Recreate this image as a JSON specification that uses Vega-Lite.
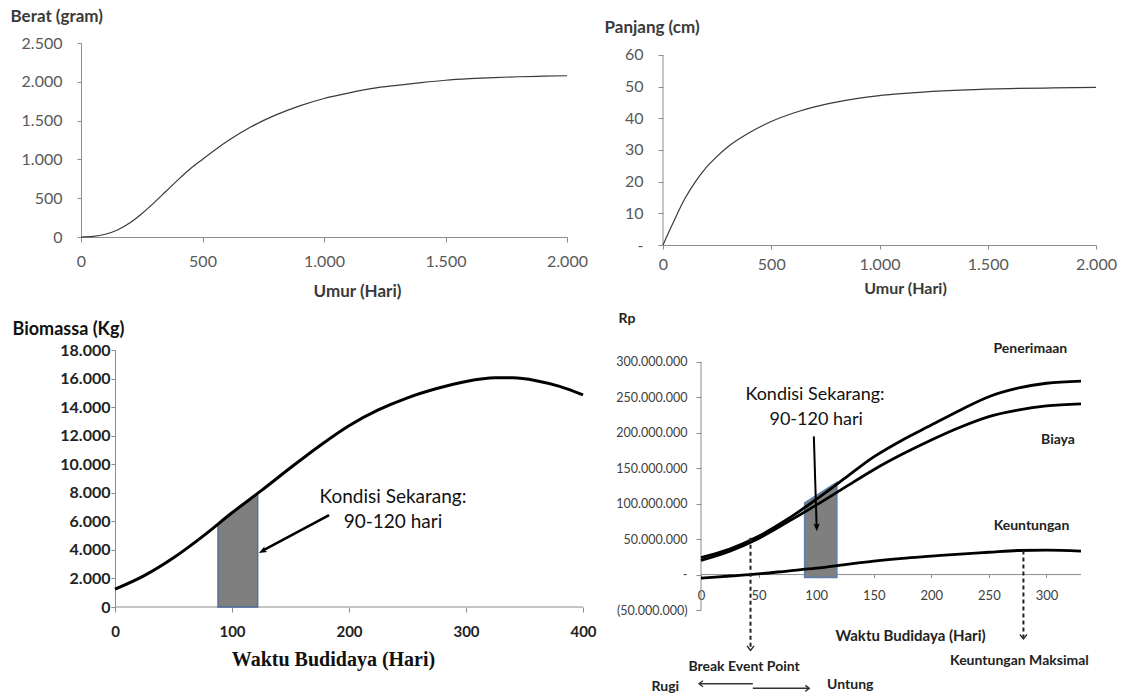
{
  "$schema": "https://vega.github.io/schema/vega-lite/v6.json",
  "background": "white",
  "padding": 0,
  "columns": 4,
  "spacing": 0,
  "bounds": "flush",
  "align": "each",
  "config": {
    "view": {"stroke": null},
    "font": "Lato",
    "locale": {"number": {"decimal": ",", "thousands": ".", "grouping": [3], "currency": ["Rp", ""]}},
    "axis": {"grid": false, "domainColor": "#8c8c8c", "tickColor": "#8c8c8c", "labelFont": "Lato", "titleFont": "Lato", "labelFlush": false, "labelOverlap": false}
  },
  "datasets": {
    "berat": [
      {"x": 0, "y": 0}, {"x": 50, "y": 8}, {"x": 100, "y": 35}, {"x": 150, "y": 90}, {"x": 200, "y": 180},
      {"x": 250, "y": 300}, {"x": 300, "y": 440}, {"x": 350, "y": 590}, {"x": 400, "y": 740}, {"x": 450, "y": 880},
      {"x": 500, "y": 1000}, {"x": 600, "y": 1230}, {"x": 700, "y": 1420}, {"x": 800, "y": 1570}, {"x": 900, "y": 1690},
      {"x": 1000, "y": 1785}, {"x": 1100, "y": 1855}, {"x": 1200, "y": 1915}, {"x": 1300, "y": 1955}, {"x": 1400, "y": 1990},
      {"x": 1500, "y": 2020}, {"x": 1600, "y": 2040}, {"x": 1700, "y": 2055}, {"x": 1800, "y": 2065}, {"x": 1900, "y": 2072}, {"x": 2000, "y": 2078}
    ],
    "panjang": [
      {"x": 0, "y": 0}, {"x": 50, "y": 7.5}, {"x": 100, "y": 14.5}, {"x": 150, "y": 20}, {"x": 200, "y": 24.5},
      {"x": 250, "y": 28}, {"x": 300, "y": 31}, {"x": 400, "y": 35.5}, {"x": 500, "y": 39}, {"x": 600, "y": 41.6},
      {"x": 700, "y": 43.6}, {"x": 800, "y": 45.1}, {"x": 900, "y": 46.3}, {"x": 1000, "y": 47.2}, {"x": 1100, "y": 47.8},
      {"x": 1200, "y": 48.3}, {"x": 1400, "y": 49}, {"x": 1600, "y": 49.4}, {"x": 1800, "y": 49.6}, {"x": 2000, "y": 49.8}
    ],
    "biomassa": [
      {"x": 0, "y": 1250}, {"x": 25, "y": 2200}, {"x": 50, "y": 3450}, {"x": 75, "y": 4950}, {"x": 100, "y": 6600},
      {"x": 125, "y": 8150}, {"x": 150, "y": 9750}, {"x": 175, "y": 11300}, {"x": 200, "y": 12700}, {"x": 225, "y": 13800},
      {"x": 250, "y": 14650}, {"x": 275, "y": 15300}, {"x": 300, "y": 15800}, {"x": 325, "y": 16050}, {"x": 340, "y": 16050},
      {"x": 360, "y": 15850}, {"x": 380, "y": 15450}, {"x": 400, "y": 14850}
    ],
    "biomassaArea": [
      {"x": 88, "y": 5810}, {"x": 100, "y": 6600}, {"x": 110, "y": 7220}, {"x": 122, "y": 7960}
    ],
    "rupiah": [
      {"s": "Penerimaan", "x": 0, "y": 24000000}, {"s": "Penerimaan", "x": 25, "y": 36000000}, {"s": "Penerimaan", "x": 50, "y": 54000000},
      {"s": "Penerimaan", "x": 75, "y": 78000000}, {"s": "Penerimaan", "x": 100, "y": 106000000}, {"s": "Penerimaan", "x": 125, "y": 136000000},
      {"s": "Penerimaan", "x": 150, "y": 166000000}, {"s": "Penerimaan", "x": 175, "y": 190000000}, {"s": "Penerimaan", "x": 200, "y": 211000000},
      {"s": "Penerimaan", "x": 225, "y": 232000000}, {"s": "Penerimaan", "x": 250, "y": 251000000}, {"s": "Penerimaan", "x": 275, "y": 263000000},
      {"s": "Penerimaan", "x": 300, "y": 270000000}, {"s": "Penerimaan", "x": 330, "y": 273000000},
      {"s": "Biaya", "x": 0, "y": 20000000}, {"s": "Biaya", "x": 25, "y": 33000000}, {"s": "Biaya", "x": 50, "y": 51000000},
      {"s": "Biaya", "x": 75, "y": 74000000}, {"s": "Biaya", "x": 100, "y": 98000000}, {"s": "Biaya", "x": 125, "y": 123000000},
      {"s": "Biaya", "x": 150, "y": 148000000}, {"s": "Biaya", "x": 175, "y": 170000000}, {"s": "Biaya", "x": 200, "y": 190000000},
      {"s": "Biaya", "x": 225, "y": 208000000}, {"s": "Biaya", "x": 250, "y": 223000000}, {"s": "Biaya", "x": 275, "y": 232000000},
      {"s": "Biaya", "x": 300, "y": 238000000}, {"s": "Biaya", "x": 330, "y": 241000000},
      {"s": "Keuntungan", "x": 0, "y": -5000000}, {"s": "Keuntungan", "x": 25, "y": -2000000}, {"s": "Keuntungan", "x": 50, "y": 1000000},
      {"s": "Keuntungan", "x": 75, "y": 5000000}, {"s": "Keuntungan", "x": 100, "y": 9000000}, {"s": "Keuntungan", "x": 125, "y": 14000000},
      {"s": "Keuntungan", "x": 150, "y": 19000000}, {"s": "Keuntungan", "x": 175, "y": 23000000}, {"s": "Keuntungan", "x": 200, "y": 26000000},
      {"s": "Keuntungan", "x": 225, "y": 29000000}, {"s": "Keuntungan", "x": 250, "y": 31500000}, {"s": "Keuntungan", "x": 275, "y": 34000000},
      {"s": "Keuntungan", "x": 300, "y": 34500000}, {"s": "Keuntungan", "x": 330, "y": 33000000}
    ]
  },
  "concat": [
    {"width": 81, "height": 43, "data": {"values": [{}]}, "mark": {"type": "point", "opacity": 0, "size": 0, "strokeWidth": 0}},
    {"width": 1, "height": 1, "data": {"values": [{}]}, "mark": {"type": "point", "opacity": 0, "size": 0, "strokeWidth": 0}},
    {"width": 80, "height": 1, "data": {"values": [{}]}, "mark": {"type": "point", "opacity": 0, "size": 0, "strokeWidth": 0}},
    {"width": 1, "height": 1, "data": {"values": [{}]}, "mark": {"type": "point", "opacity": 0, "size": 0, "strokeWidth": 0}},

    {"width": 1, "height": 1, "data": {"values": [{}]}, "mark": {"type": "point", "opacity": 0, "size": 0, "strokeWidth": 0}},
    {
      "width": 486,
      "height": 194,
      "data": {"name": "berat"},
      "mark": {"type": "line", "color": "#3a3a3a", "strokeWidth": 1.2, "interpolate": "monotone"},
      "encoding": {
        "x": {"field": "x", "type": "quantitative", "scale": {"domain": [0, 2000], "nice": false},
          "axis": {"values": [0, 500, 1000, 1500, 2000], "labelExpr": "replace(format(datum.value, ','), regexp(',', 'g'), '.')",
            "title": "Umur (Hari)", "titleX": 276, "titleY": 59, "titleAlign": "center", "titleBaseline": "alphabetic",
            "titleFontSize": 17, "titleFontWeight": "bold", "titleColor": "#3a3a3a",
            "labelFontSize": 16, "labelColor": "#595959", "tickSize": 5, "labelPadding": 11}},
        "y": {"field": "y", "type": "quantitative", "scale": {"domain": [0, 2500], "nice": false},
          "axis": {"values": [0, 500, 1000, 1500, 2000, 2500], "labelExpr": "replace(format(datum.value, ','), regexp(',', 'g'), '.')",
            "title": "Berat (gram)", "titleAngle": 0, "titleX": -71, "titleY": -22, "titleAlign": "left", "titleBaseline": "alphabetic",
            "titleFontSize": 17, "titleFontWeight": "bold", "titleColor": "#3a3a3a",
            "labelFontSize": 16, "labelColor": "#595959", "tickSize": 4, "labelPadding": 15}}
      }
    },
    {"width": 1, "height": 1, "data": {"values": [{}]}, "mark": {"type": "point", "opacity": 0, "size": 0, "strokeWidth": 0}},
    {
      "width": 433,
      "height": 202,
      "encoding": {
        "x": {"field": "x", "type": "quantitative", "scale": {"domain": [0, 2000], "nice": false},
          "axis": {"values": [0, 500, 1000, 1500, 2000], "labelExpr": "replace(format(datum.value, ','), regexp(',', 'g'), '.')",
            "title": "Umur (Hari)", "titleX": 242, "titleY": 48, "titleAlign": "center", "titleBaseline": "alphabetic",
            "titleFontSize": 16, "titleFontWeight": "bold", "titleColor": "#3a3a3a",
            "labelFontSize": 16, "labelColor": "#595959", "tickSize": 4, "labelPadding": 7}},
        "y": {"field": "y", "type": "quantitative", "scale": {"domain": [0, 63.789], "nice": false},
          "axis": {"values": [0, 10, 20, 30, 40, 50, 60], "domain": false, "labelExpr": "datum.value == 0 ? '-' : datum.label",
            "title": "Panjang (cm)", "titleAngle": 0, "titleX": -59, "titleY": -11, "titleAlign": "left", "titleBaseline": "alphabetic",
            "titleFontSize": 17, "titleFontWeight": "bold", "titleColor": "#3a3a3a",
            "labelFontSize": 16, "labelColor": "#595959", "tickSize": 5, "labelPadding": 15}}
      },
      "layer": [
        {
          "data": {"values": [{"x": 0, "y": 0, "y2": 60}]},
          "mark": {"type": "rule", "color": "#8c8c8c", "strokeWidth": 1},
          "encoding": {"y2": {"field": "y2"}}
        },
        {
          "data": {"name": "panjang"},
          "mark": {"type": "line", "color": "#3a3a3a", "strokeWidth": 1.2, "interpolate": "monotone"}
        }
      ]
    },

    {"width": 1, "height": 1, "data": {"values": [{}]}, "mark": {"type": "point", "opacity": 0, "size": 0, "strokeWidth": 0}},
    {"width": 1, "height": 105, "data": {"values": [{}]}, "mark": {"type": "point", "opacity": 0, "size": 0, "strokeWidth": 0}},
    {"width": 1, "height": 1, "data": {"values": [{}]}, "mark": {"type": "point", "opacity": 0, "size": 0, "strokeWidth": 0}},
    {"width": 1, "height": 1, "data": {"values": [{}]}, "mark": {"type": "point", "opacity": 0, "size": 0, "strokeWidth": 0}},

    {"width": 1, "height": 1, "data": {"values": [{}]}, "mark": {"type": "point", "opacity": 0, "size": 0, "strokeWidth": 0}},
    {
      "width": 502,
      "height": 257,
      "encoding": {
        "x": {"field": "x", "type": "quantitative", "scale": {"domain": [-29.06, 400], "nice": false, "zero": false},
          "axis": {"values": [0, 100, 200, 300, 400], "domain": false,
            "title": "Waktu Budidaya (Hari)", "titleX": 252, "titleY": 58, "titleAlign": "center", "titleBaseline": "alphabetic",
            "titleFont": "Liberation Serif", "titleFontSize": 20, "titleFontWeight": "bold", "titleColor": "#111111",
            "labelFontSize": 15, "labelFontWeight": "bold", "labelColor": "#222222", "tickSize": 5, "labelPadding": 12}},
        "y": {"field": "y", "type": "quantitative", "scale": {"domain": [0, 18000], "nice": false},
          "axis": {"values": [0, 2000, 4000, 6000, 8000, 10000, 12000, 14000, 16000, 18000], "offset": -34,
            "labelExpr": "replace(format(datum.value, ','), regexp(',', 'g'), '.')",
            "title": "Biomassa (Kg)", "titleAngle": 0, "titleX": -103, "titleY": -16, "titleAlign": "left", "titleBaseline": "alphabetic",
            "titleFontSize": 18, "titleFontWeight": "bold", "titleColor": "#111111",
            "labelFontSize": 16, "labelFontWeight": "bold", "labelColor": "#222222", "tickSize": 4, "labelPadding": 1}}
      },
      "layer": [
        {
          "data": {"values": [{"x": 0, "x2": 400, "y": 0}]},
          "mark": {"type": "rule", "color": "#8c8c8c", "strokeWidth": 1},
          "encoding": {"x2": {"field": "x2"}}
        },
        {
          "data": {"name": "biomassaArea"},
          "mark": {"type": "area", "color": "#7f7f7f", "stroke": "#4a6a9a", "strokeWidth": 1.3, "opacity": 1},
          "encoding": {"y2": {"datum": 0}}
        },
        {
          "data": {"name": "biomassa"},
          "mark": {"type": "line", "color": "#000000", "strokeWidth": 3, "interpolate": "monotone"}
        },
        {
          "data": {"values": [{"x": 183, "y": 6440, "x2": 127, "y2": 3980}]},
          "mark": {"type": "rule", "color": "#000000", "strokeWidth": 2.5},
          "encoding": {"x2": {"field": "x2"}, "y2": {"field": "y2"}}
        },
        {
          "data": {"values": [{"x": 123, "y": 3780}]},
          "mark": {"type": "point", "shape": "M0,0L-0.8,-2L0,-1.5L0.8,-2Z", "filled": true, "color": "#000000", "opacity": 1, "size": 64, "angle": 61.5}
        },
        {
          "data": {"values": [{"x": 237.6, "y": 7283, "t": "Kondisi Sekarang:"}, {"x": 237.6, "y": 5532, "t": "90-120 hari"}]},
          "mark": {"type": "text", "font": "Lato", "fontSize": 19, "color": "#111111", "align": "center", "baseline": "alphabetic"},
          "encoding": {"text": {"field": "t"}}
        }
      ]
    },
    {"width": 1, "height": 1, "data": {"values": [{}]}, "mark": {"type": "point", "opacity": 0, "size": 0, "strokeWidth": 0}},
    {
      "width": 418,
      "height": 260,
      "encoding": {
        "x": {"field": "x", "type": "quantitative", "scale": {"domain": [-33.0, 330], "nice": false, "zero": false},
          "axis": {"values": [0, 50, 100, 150, 200, 250, 300], "offset": -35.43, "domain": false,
            "title": "Waktu Budidaya (Hari)", "titleX": 247, "titleY": 66, "titleAlign": "center", "titleBaseline": "alphabetic",
            "titleFontSize": 15, "titleFontWeight": "bold", "titleColor": "#222222",
            "labelFontSize": 13, "labelColor": "#404040", "tickSize": 3, "labelPadding": 12}},
        "y": {"field": "y", "type": "quantitative", "scale": {"domain": [-50000000, 316935000], "nice": false, "zero": false},
          "axis": {"values": [-50000000, 0, 50000000, 100000000, 150000000, 200000000, 250000000, 300000000], "offset": -38, "domain": false,
            "labelExpr": "datum.value == 0 ? '-\u00a0\u00a0\u00a0' : (datum.value < 0 ? '(' + replace(format(-datum.value, ','), regexp(',', 'g'), '.') + ')' : replace(format(datum.value, ','), regexp(',', 'g'), '.'))",
            "title": "Rp", "titleAngle": 0, "titleX": -83, "titleY": -28, "titleAlign": "left", "titleBaseline": "alphabetic",
            "titleFontSize": 14, "titleFontWeight": "bold", "titleColor": "#222222",
            "labelFontSize": 12.5, "labelColor": "#404040", "tickSize": 5, "labelPadding": 9}}
      },
      "layer": [
        {
          "data": {"values": [{"x": 0, "y": -50000000, "y2": 300000000}]},
          "mark": {"type": "rule", "color": "#8c8c8c", "strokeWidth": 1},
          "encoding": {"y2": {"field": "y2"}}
        },
        {
          "data": {"values": [{"x": 0, "x2": 330, "y": 0}]},
          "mark": {"type": "rule", "color": "#8c8c8c", "strokeWidth": 1},
          "encoding": {"x2": {"field": "x2"}}
        },
        {
          "data": {"values": [{"x": 90, "y": 101000000, "lo": -4000000}, {"x": 118, "y": 130000000, "lo": -4000000}]},
          "mark": {"type": "area", "color": "#7f7f7f", "stroke": "#5b7fae", "strokeWidth": 1.5, "opacity": 1},
          "encoding": {"y2": {"field": "lo"}}
        },
        {
          "data": {"name": "rupiah"},
          "mark": {"type": "line", "color": "#000000", "strokeWidth": 2.8, "interpolate": "monotone"},
          "encoding": {"detail": {"field": "s"}}
        },
        {
          "data": {"values": [{"x": 43, "y": 52000000, "y2": -105000000}, {"x": 280, "y": 34000000, "y2": -89000000}]},
          "mark": {"type": "rule", "color": "#222222", "strokeWidth": 2, "strokeDash": [4, 3]},
          "encoding": {"y2": {"field": "y2"}}
        },
        {
          "data": {"values": [{"x": 43, "y": -107000000}, {"x": 280, "y": -91000000}]},
          "mark": {"type": "point", "shape": "M-1,-1.3L0,0L1,-1.3", "filled": false, "color": "#222222", "strokeWidth": 1.3, "opacity": 1, "size": 49}
        },
        {
          "data": {"values": [{"x": 98, "y": 195000000, "x2": 100.4, "y2": 68000000}]},
          "mark": {"type": "rule", "color": "#000000", "strokeWidth": 2},
          "encoding": {"x2": {"field": "x2"}, "y2": {"field": "y2"}}
        },
        {
          "data": {"values": [{"x": 100.6, "y": 61000000}]},
          "mark": {"type": "point", "shape": "M0,0L-0.8,-2L0,-1.5L0.8,-2Z", "filled": true, "color": "#000000", "opacity": 1, "size": 64, "angle": -1.6}
        },
        {
          "data": {"values": [{"x": 45, "y": -154000000, "x2": -1.5}, {"x": 45, "y": -160600000, "x2": 93.5}]},
          "mark": {"type": "rule", "color": "#333333", "strokeWidth": 1.5},
          "encoding": {"x2": {"field": "x2"}}
        },
        {
          "data": {"values": [{"x": -1.7, "y": -154000000}]},
          "mark": {"type": "point", "shape": "M1.3,-1L0,0L1.3,1", "filled": false, "color": "#333333", "strokeWidth": 1.4, "opacity": 1, "size": 36}
        },
        {
          "data": {"values": [{"x": 94, "y": -160600000}]},
          "mark": {"type": "point", "shape": "M-1.3,-1L0,0L-1.3,1", "filled": false, "color": "#333333", "strokeWidth": 1.4, "opacity": 1, "size": 36}
        },
        {
          "data": {"values": [
            {"x": 286, "y": 318000000, "t": "Penerimaan"},
            {"x": 310, "y": 190000000, "t": "Biaya"},
            {"x": 287, "y": 69000000, "t": "Keuntungan"},
            {"x": 37.4, "y": -131000000, "t": "Break Event Point"},
            {"x": 276.5, "y": -122500000, "t": "Keuntungan Maksimal"},
            {"x": -31, "y": -158000000, "t": "Rugi"},
            {"x": 129.6, "y": -156000000, "t": "Untung"}
          ]},
          "mark": {"type": "text", "font": "Lato", "fontSize": 14, "fontWeight": "bold", "color": "#222222", "align": "center", "baseline": "middle"},
          "encoding": {"text": {"field": "t"}}
        },
        {
          "data": {"values": [{"x": 99, "y": 254000000, "t": "Kondisi Sekarang:"}, {"x": 100, "y": 218000000, "t": "90-120 hari"}]},
          "mark": {"type": "text", "font": "Lato", "fontSize": 18, "color": "#111111", "align": "center", "baseline": "middle"},
          "encoding": {"text": {"field": "t"}}
        }
      ]
    }
  ]
}
